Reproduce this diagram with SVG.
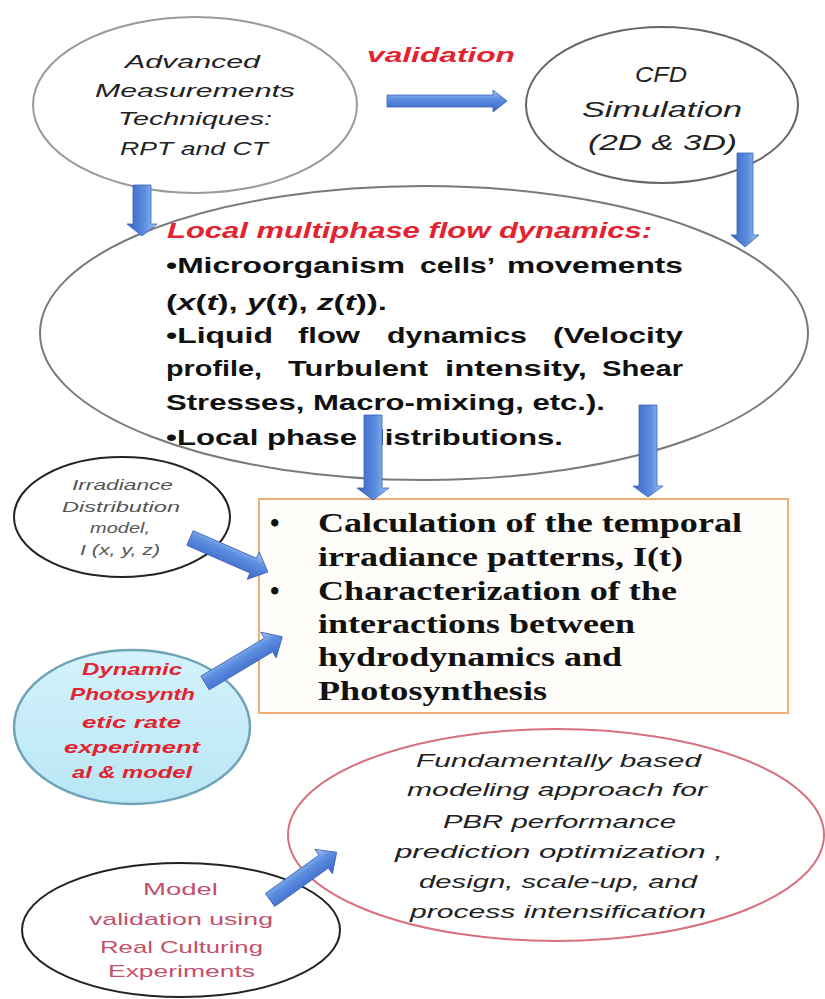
<svg xmlns="http://www.w3.org/2000/svg" width="825" height="999" viewBox="0 0 825 999">
<style>
.ell{fill:none;stroke-width:2}
.it{font-family:"Liberation Sans",Arial,sans-serif;font-style:italic;fill:#222}
.bd{font-family:"Liberation Sans",Arial,sans-serif;font-weight:bold;fill:#111}
.red{font-family:"Liberation Sans",Arial,sans-serif;font-weight:bold;font-style:italic;fill:#e3232f}
.ser{font-family:"Liberation Serif","Times New Roman",serif;font-weight:bold;fill:#111}
.pink{font-family:"Liberation Sans",Arial,sans-serif;fill:#c4506c}
.arr{fill:url(#ag);stroke:#3a62b8;stroke-width:0.8}
</style>
<defs>
<linearGradient id="ag" x1="0" y1="0" x2="0" y2="1">
<stop offset="0" stop-color="#a9c8f3"/>
<stop offset="0.4" stop-color="#5d8fe0"/>
<stop offset="1" stop-color="#3b63c5"/>
</linearGradient>
<linearGradient id="dg" x1="0" y1="0" x2="0" y2="1">
<stop offset="0" stop-color="#d4f2fb"/>
<stop offset="1" stop-color="#b9e6f5"/>
</linearGradient>
</defs>
<rect width="825" height="999" fill="#ffffff"/>

<g id="node-measurements">
<ellipse class="ell" cx="195" cy="105" rx="162" ry="88" stroke="#9a9a9a"/>
<text class="it" font-size="19" x="125" y="68" textLength="135" lengthAdjust="spacingAndGlyphs">Advanced</text>
<text class="it" font-size="19" x="95" y="97" textLength="200" lengthAdjust="spacingAndGlyphs">Measurements</text>
<text class="it" font-size="19" x="118" y="125" textLength="154" lengthAdjust="spacingAndGlyphs">Techniques:</text>
<text class="it" font-size="19" x="120" y="155" textLength="148" lengthAdjust="spacingAndGlyphs">RPT and CT</text>
</g>

<g id="label-validation">
<text class="red" font-size="21" x="367" y="62" textLength="148" lengthAdjust="spacingAndGlyphs">validation</text>
</g>

<g id="node-cfd">
<ellipse class="ell" cx="662" cy="105" rx="136" ry="78" stroke="#666666"/>
<text class="it" font-size="22" x="635" y="82" textLength="52" lengthAdjust="spacingAndGlyphs">CFD</text>
<text class="it" font-size="22" x="582" y="117" textLength="160" lengthAdjust="spacingAndGlyphs">Simulation</text>
<text class="it" font-size="22" x="588" y="150" textLength="149" lengthAdjust="spacingAndGlyphs">(2D &amp; 3D)</text>
</g>

<g id="node-local-flow">
<ellipse class="ell" cx="424" cy="333" rx="384" ry="147" stroke="#7a7a7a"/>
<text class="red" font-size="22" x="167" y="238" textLength="485" lengthAdjust="spacingAndGlyphs">Local multiphase flow dynamics:</text>
<text class="bd" font-size="22" y="273"><tspan x="166" textLength="239" lengthAdjust="spacingAndGlyphs">•Microorganism</tspan></text>
<text class="bd" font-size="22" x="420" y="273" textLength="75" lengthAdjust="spacingAndGlyphs">cells’</text>
<text class="bd" font-size="22" x="507" y="273" textLength="176" lengthAdjust="spacingAndGlyphs">movements</text>
<text class="bd" font-size="22" x="166" y="310" textLength="221" lengthAdjust="spacingAndGlyphs">(<tspan font-style="italic">x</tspan>(<tspan font-style="italic">t</tspan>), <tspan font-style="italic">y</tspan>(<tspan font-style="italic">t</tspan>), <tspan font-style="italic">z</tspan>(<tspan font-style="italic">t</tspan>)).</text>
<text class="bd" font-size="22" x="166" y="343" textLength="107" lengthAdjust="spacingAndGlyphs">•Liquid</text>
<text class="bd" font-size="22" x="298" y="343" textLength="62" lengthAdjust="spacingAndGlyphs">flow</text>
<text class="bd" font-size="22" x="387" y="343" textLength="140" lengthAdjust="spacingAndGlyphs">dynamics</text>
<text class="bd" font-size="22" x="553" y="343" textLength="130" lengthAdjust="spacingAndGlyphs">(Velocity</text>
<text class="bd" font-size="22" x="166" y="376" textLength="96" lengthAdjust="spacingAndGlyphs">profile,</text>
<text class="bd" font-size="22" x="288" y="376" textLength="140" lengthAdjust="spacingAndGlyphs">Turbulent</text>
<text class="bd" font-size="22" x="445" y="376" textLength="142" lengthAdjust="spacingAndGlyphs">intensity,</text>
<text class="bd" font-size="22" x="602" y="376" textLength="81" lengthAdjust="spacingAndGlyphs">Shear</text>
<text class="bd" font-size="22" x="166" y="410" textLength="439" lengthAdjust="spacingAndGlyphs">Stresses, Macro-mixing, etc.).</text>
<text class="bd" font-size="22" x="166" y="445" textLength="397" lengthAdjust="spacingAndGlyphs">•Local phase distributions.</text>
</g>

<g id="node-irradiance">
<ellipse class="ell" cx="122" cy="517" rx="108" ry="60" stroke="#222222"/>
<text class="it" font-size="15" fill="#555" style="fill:#555" x="72" y="490" textLength="101" lengthAdjust="spacingAndGlyphs">Irradiance</text>
<text class="it" font-size="15" style="fill:#555" x="62" y="512" textLength="118" lengthAdjust="spacingAndGlyphs">Distribution</text>
<text class="it" font-size="15" style="fill:#555" x="90" y="533" textLength="60" lengthAdjust="spacingAndGlyphs">model,</text>
<text class="it" font-size="15" style="fill:#555" x="80" y="555" textLength="80" lengthAdjust="spacingAndGlyphs">I (x, y, z)</text>
</g>

<g id="node-calculation">
<rect x="259" y="499" width="529" height="214" fill="#fffdfa" stroke="#f2ad74" stroke-width="2"/>
<text class="ser" font-size="27" x="270" y="532">•</text>
<text class="ser" font-size="27" x="270" y="600">•</text>
<text class="ser" font-size="27" x="318" y="532" textLength="424" lengthAdjust="spacingAndGlyphs">Calculation of the temporal</text>
<text class="ser" font-size="27" x="318" y="566" textLength="365" lengthAdjust="spacingAndGlyphs">irradiance patterns, I(t)</text>
<text class="ser" font-size="27" x="318" y="600" textLength="359" lengthAdjust="spacingAndGlyphs">Characterization of the</text>
<text class="ser" font-size="27" x="318" y="633" textLength="317" lengthAdjust="spacingAndGlyphs">interactions between</text>
<text class="ser" font-size="27" x="318" y="666" textLength="304" lengthAdjust="spacingAndGlyphs">hydrodynamics and</text>
<text class="ser" font-size="27" x="318" y="700" textLength="229" lengthAdjust="spacingAndGlyphs">Photosynthesis</text>
</g>

<g id="node-dynamic">
<ellipse cx="132" cy="727" rx="118" ry="77" fill="url(#dg)" stroke="#6fa3b8" stroke-width="2.5"/>
<text class="red" font-size="17" x="82" y="675" textLength="100" lengthAdjust="spacingAndGlyphs">Dynamic</text>
<text class="red" font-size="17" x="70" y="700" textLength="125" lengthAdjust="spacingAndGlyphs">Photosynth</text>
<text class="red" font-size="17" x="82" y="728" textLength="99" lengthAdjust="spacingAndGlyphs">etic rate</text>
<text class="red" font-size="17" x="64" y="753" textLength="136" lengthAdjust="spacingAndGlyphs">experiment</text>
<text class="red" font-size="17" x="72" y="778" textLength="120" lengthAdjust="spacingAndGlyphs">al &amp; model</text>
</g>

<g id="node-fundamental">
<ellipse class="ell" cx="556" cy="835" rx="268" ry="106" stroke="#d8707f"/>
<text class="it" font-size="19" x="416" y="767" textLength="285" lengthAdjust="spacingAndGlyphs">Fundamentally based</text>
<text class="it" font-size="19" x="407" y="796" textLength="300" lengthAdjust="spacingAndGlyphs">modeling approach for</text>
<text class="it" font-size="19" x="443" y="828" textLength="233" lengthAdjust="spacingAndGlyphs">PBR performance</text>
<text class="it" font-size="19" x="395" y="858" textLength="328" lengthAdjust="spacingAndGlyphs">prediction optimization ,</text>
<text class="it" font-size="19" x="419" y="888" textLength="278" lengthAdjust="spacingAndGlyphs">design, scale-up, and</text>
<text class="it" font-size="19" x="410" y="918" textLength="296" lengthAdjust="spacingAndGlyphs">process intensification</text>
</g>

<g id="node-model-validation">
<ellipse class="ell" cx="181" cy="930" rx="159" ry="67" stroke="#222222"/>
<text class="pink" font-size="17" x="143" y="895" textLength="75" lengthAdjust="spacingAndGlyphs">Model</text>
<text class="pink" font-size="17" x="89" y="925" textLength="184" lengthAdjust="spacingAndGlyphs">validation using</text>
<text class="pink" font-size="17" x="100" y="953" textLength="163" lengthAdjust="spacingAndGlyphs">Real Culturing</text>
<text class="pink" font-size="17" x="108" y="977" textLength="147" lengthAdjust="spacingAndGlyphs">Experiments</text>
</g>

<g id="connectors">
<path class="arr" transform="translate(387,101)" d="M0,-6 L106,-6 L106,-11 L120,0 L106,11 L106,6 L0,6Z"/>
<path class="arr" transform="translate(745,153) rotate(90)" d="M0,-8 L82,-8 L82,-14 L94,0 L82,14 L82,8 L0,8Z"/>
<path class="arr" transform="translate(142,185) rotate(90)" d="M0,-9 L39,-9 L39,-15 L51,0 L39,15 L39,9 L0,9Z"/>
<path class="arr" transform="translate(373,415) rotate(90)" d="M0,-9 L73,-9 L73,-16 L85,0 L73,16 L73,9 L0,9Z"/>
<path class="arr" transform="translate(648,405) rotate(90)" d="M0,-9 L81,-9 L81,-15 L92,0 L81,15 L81,9 L0,9Z"/>
<path class="arr" transform="translate(190,538) rotate(23.6)" d="M0,-8 L69,-8 L69,-15 L85,0 L69,15 L69,8 L0,8Z"/>
<path class="arr" transform="translate(205,683) rotate(-30.9)" d="M0,-8 L74,-8 L74,-15 L90,0 L74,15 L74,8 L0,8Z"/>
<path class="arr" transform="translate(270,900) rotate(-35.6)" d="M0,-8 L66,-8 L66,-15 L82,0 L66,15 L66,8 L0,8Z"/>
</g>
</svg>
